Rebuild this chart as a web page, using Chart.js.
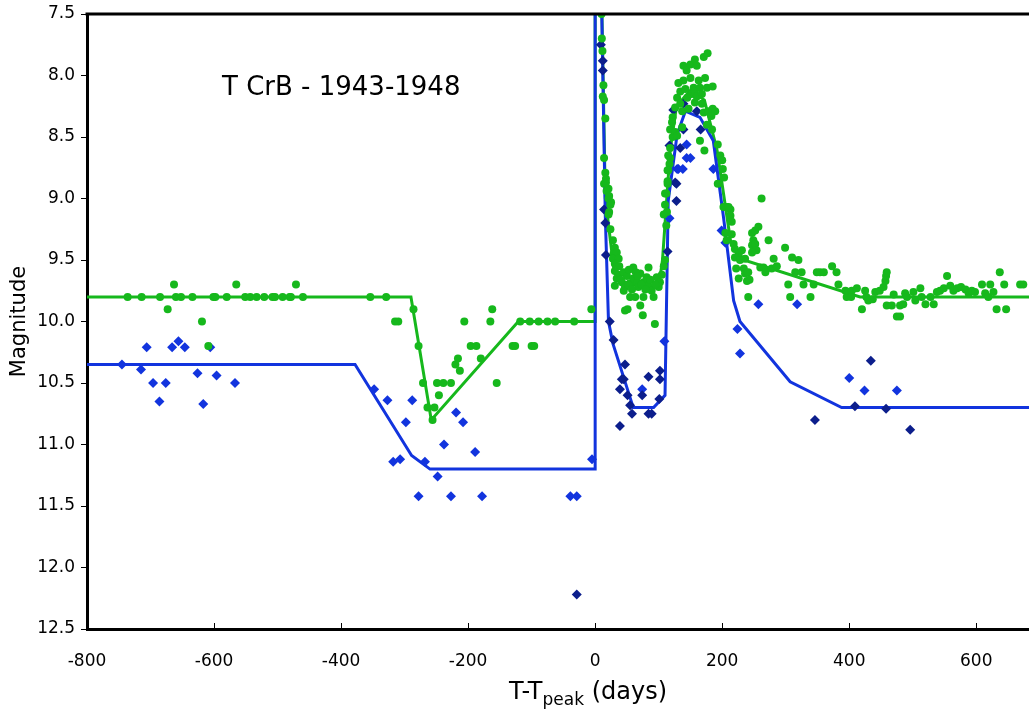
<!DOCTYPE html>
<html><head><meta charset="utf-8">
<script src="https://cdn.jsdelivr.net/npm/chart.js@4/dist/chart.umd.min.js"></script>
<style>html,body{margin:0;padding:0;background:#fff;overflow:hidden}canvas{display:block}</style>
</head><body>
<canvas id="c" width="1029" height="712"></canvas>
<script>
// ---- data (days from peak, magnitude) ----
const xTickValues = [-800, -600, -400, -200, 0, 200, 400, 600];
const yTickValues = [7.5, 8.0, 8.5, 9.0, 9.5, 10.0, 10.5, 11.0, 11.5, 12.0, 12.5];
const chartTitle = "T CrB - 1943-1948";
const yTitle = "Magnitude";

// green model line (V)
const greenLineX = [-800, -290, -258, -121, 0, 0, 16, 30, 50, 100, 106, 118, 128, 150, 172, 192, 213, 234, 417, 683];
const greenLineY = [9.8, 9.8, 10.8, 10.0, 10.0, 4.5, 9.0, 9.6, 9.7, 9.72, 9.5, 8.61, 8.25, 8.12, 8.2, 8.61, 9.34, 9.5, 9.8, 9.8];

// blue model line (B)
const blueLineX = [-800, -378, -289, -260, 0, 0, 16, 21, 28, 60, 92, 110, 115, 129, 142, 165, 186, 202, 218, 228, 307, 388, 683];
const blueLineY = [10.35, 10.35, 11.09, 11.2, 11.2, 4.4, 9.15, 10.0, 10.18, 10.7, 10.7, 10.6, 9.02, 8.48, 8.29, 8.34, 8.53, 9.15, 9.83, 10.0, 10.49, 10.7, 10.7];

// green circles (visual)
const greenPtsX = [
 -736,-714,-685,-673,-663,-660,-652,-634,-619,-609,-601,-598,-580,-565,-551,-543,-533,-521,-508,-504,-492,-481,-479,-471,-460,
 -354,-329,-315,-310,-286,-278,-271,-264,-253,-256,-249,-239,-227,-246,-220,-216,-213,-206,-196,-187,-180,-165,-162,-155,-130,-126,-118,-103,-89,-75,-63,-100,-96,-33,-6,
 10,10.5,11.5,13,12,14,16,14,16,17,14,21,21,25,22,17,18,22,24,21,24,28,31,29,34,28,37,31,38,
 31,37,45,50,34,42,31,47,55,60,60,66,71,68,76,84,81,84,89,92,97,100,102,105,55,63,47,51,71,75,94,45,76,40,52,58,64,73,79,87,95,53,67,
 108,110,112,113,110,114,115,118,117,
 108,110,112,114,114,115,118,118,122,122,126,126,129,131,134,139,139,144,150,157,160,171,177,134,142,150,155,152,157,163,165,173,176,185,137,147,157,168,171,178,185,189,183,176,184,165,172,193,197,200,201,203,193,207,213,121,137,129,145,160,168,
 262,202,210,213,215,205,215,207,218,220,226,231,220,228,236,222,234,236,241,226,239,243,241,247,252,257,249,247,252,254,247,273,260,265,268,278,281,286,299,310,320,304,307,315,325,328,339,344,349,354,360,373,380,383,394,399,404,396,403,412,420,425,427,430,437,441,448,454,457,458,459,459,467,470,475,480,480,485,488,491,501,504,512,514,520,528,533,538,543,549,554,559,564,570,576,583,588,593,598,609,614,619,622,627,632,647,637,644,669,674
];
const greenPtsY = [
 9.8,9.8,9.8,9.9,9.7,9.8,9.8,9.8,10.0,10.2,9.8,9.8,9.8,9.7,9.8,9.8,9.8,9.8,9.8,9.8,9.8,9.8,9.8,9.7,9.8,
 9.8,9.8,10.0,10.0,9.9,10.2,10.5,10.7,10.7,10.8,10.5,10.5,10.5,10.6,10.35,10.3,10.4,10.0,10.2,10.2,10.3,10.0,9.9,10.5,10.2,10.2,10.0,10.0,10.0,10.0,10.0,10.2,10.2,10.0,9.9,
 7.5,7.7,7.8,8.08,8.17,8.2,8.35,8.67,8.79,8.84,8.88,8.92,9.0,9.03,9.11,8.87,8.94,8.98,9.05,9.13,9.25,9.34,9.4,9.45,9.44,9.49,9.49,9.53,9.55,
 9.59,9.62,9.6,9.63,9.65,9.68,9.71,9.72,9.69,9.56,9.65,9.68,9.61,9.72,9.68,9.56,9.64,9.71,9.75,9.8,9.64,9.72,9.68,9.62,9.8,9.8,9.91,9.9,9.87,9.95,10.02,9.75,9.8,9.66,9.7,9.74,9.6,9.7,9.74,9.66,9.7,9.58,9.63,
 9.55,9.5,9.22,9.11,8.96,8.88,8.77,8.67,8.72,
 9.13,9.05,8.96,8.86,8.77,8.65,8.59,8.44,8.5,8.34,8.46,8.26,8.18,8.06,8.13,8.04,7.92,7.96,7.91,7.87,7.92,7.85,7.82,8.23,8.11,8.02,8.1,8.15,8.13,8.04,8.1,8.02,8.1,8.09,8.29,8.27,8.22,8.23,8.3,8.29,8.27,8.29,8.33,8.4,8.44,8.53,8.61,8.56,8.65,8.69,8.76,8.83,8.88,9.07,9.09,8.38,8.42,8.49,8.18,8.17,8.15,
 9.0,9.07,9.07,9.14,9.19,9.28,9.29,9.34,9.37,9.41,9.45,9.42,9.48,9.5,9.49,9.57,9.57,9.61,9.6,9.65,9.67,9.66,9.8,9.28,9.26,9.23,9.34,9.38,9.37,9.42,9.44,9.34,9.56,9.56,9.6,9.57,9.49,9.55,9.4,9.48,9.5,9.7,9.8,9.6,9.6,9.7,9.8,9.7,9.6,9.6,9.6,9.55,9.6,9.7,9.75,9.76,9.75,9.8,9.8,9.73,9.9,9.75,9.8,9.83,9.82,9.76,9.75,9.72,9.67,9.63,9.6,9.87,9.87,9.78,9.96,9.96,9.87,9.86,9.77,9.8,9.76,9.83,9.73,9.8,9.86,9.8,9.86,9.76,9.75,9.73,9.63,9.71,9.75,9.73,9.72,9.74,9.77,9.75,9.76,9.7,9.77,9.8,9.7,9.76,9.9,9.9,9.6,9.7,9.7,9.7
];

// blue diamonds
const bluePtsX = [-745,-715,-706,-696,-686,-676,-666,-656,-646,-626,-617,-606,-596,-567,-348,-327,-288,-298,-318,-307,-268,-248,-238,-219,-208,-189,-278,-227,-178,-39,-29,-5,
 74,109,117,129,144,144,150,131,138,186,199,205,224,228,257,318,400,424,475];
const bluePtsY = [10.35,10.39,10.21,10.5,10.65,10.5,10.21,10.16,10.21,10.42,10.67,10.21,10.44,10.5,10.55,10.64,10.64,10.82,11.14,11.12,11.14,11.26,11.0,10.74,10.82,11.06,11.42,11.42,11.42,11.42,11.42,11.12,
 10.55,10.16,9.16,8.76,8.56,8.67,8.67,8.76,8.76,8.76,9.26,9.36,10.06,10.26,9.86,9.86,10.46,10.56,10.56];

// navy diamonds
const navyPtsX = [-29,9,12,12,14,16,17,23,29,47,42,45,39,39,51,55,58,74,84,84,89,102,102,101,114,128,128,123,139,160,139,166,117,134,126,346,434,409,458,496];
const navyPtsY = [12.22,7.75,7.88,7.96,9.09,9.2,9.46,10.0,10.15,10.35,10.47,10.47,10.55,10.85,10.6,10.68,10.75,10.6,10.45,10.75,10.75,10.4,10.47,10.63,9.43,9.02,8.88,8.28,8.23,8.29,8.44,8.44,8.57,8.59,8.87,10.8,10.32,10.69,10.71,10.88];

const pts = (xs, ys) => xs.map((x, i) => ({x: x, y: ys[i]}));

const GREEN = 'rgb(22,184,28)';
const BLUE = 'rgb(18,52,222)';
const NAVY = 'rgb(12,30,140)';
const FONT = "'DejaVu Sans', Verdana, sans-serif";

const framePlugin = {
  id: 'frame',
  afterDraw(chart) {
    const ctx = chart.ctx, a = chart.chartArea;
    const xs = chart.scales.x;
    ctx.save();
    ctx.strokeStyle = '#000';
    ctx.lineWidth = 3;
    ctx.beginPath();
    ctx.moveTo(a.left - 1.5, a.top);
    ctx.lineTo(chart.width, a.top);
    ctx.stroke();
    ctx.lineWidth = 1;
    xTickValues.forEach(v => {
      const px = Math.round(xs.getPixelForValue(v)) + 0.5;
      ctx.beginPath();
      ctx.moveTo(px, a.bottom);
      ctx.lineTo(px, a.bottom - 6);
      ctx.stroke();
    });
    ctx.fillStyle = '#000';
    // annotation title
    ctx.font = "26px " + FONT;
    ctx.textAlign = 'left';
    ctx.textBaseline = 'middle';
    ctx.fillText(chartTitle, 222, 88);
    // y title
    ctx.save();
    ctx.translate(20, (a.top + a.bottom) / 2);
    ctx.rotate(-Math.PI / 2);
    ctx.textAlign = 'center';
    ctx.font = "21px " + FONT;
    ctx.fillText(yTitle, 0, 0);
    ctx.restore();
    // x title with subscript
    const big = "24px " + FONT, small = "17px " + FONT;
    const p1 = "T-T", p2 = "peak", p3 = " (days)";
    ctx.font = big; const w1 = ctx.measureText(p1).width, w3 = ctx.measureText(p3).width;
    ctx.font = small; const w2 = ctx.measureText(p2).width;
    let x0 = 588 - (w1 + w2 + w3) / 2;
    const yb = 699;
    ctx.textAlign = 'left'; ctx.textBaseline = 'alphabetic';
    ctx.font = big; ctx.fillText(p1, x0, yb);
    ctx.font = small; ctx.fillText(p2, x0 + w1, yb + 6);
    ctx.font = big; ctx.fillText(p3, x0 + w1 + w2, yb);
    ctx.restore();
  }
};

new Chart(document.getElementById('c'), {
  type: 'scatter',
  data: {
    datasets: [
      {label: 'V visual', data: pts(greenPtsX, greenPtsY), pointStyle: 'circle', pointRadius: 4, pointBorderWidth: 0, backgroundColor: GREEN, borderColor: GREEN, order: 0},
      {label: 'B navy', data: pts(navyPtsX, navyPtsY), pointStyle: 'rectRot', pointRadius: 5, pointBorderWidth: 0, backgroundColor: NAVY, borderColor: NAVY, order: 1},
      {label: 'B', data: pts(bluePtsX, bluePtsY), pointStyle: 'rectRot', pointRadius: 5, pointBorderWidth: 0, backgroundColor: BLUE, borderColor: BLUE, order: 2},
      {label: 'B model', data: pts(blueLineX, blueLineY), showLine: true, pointRadius: 0, borderWidth: 3, borderColor: BLUE, backgroundColor: BLUE, order: 3},
      {label: 'V model', data: pts(greenLineX, greenLineY), showLine: true, pointRadius: 0, borderWidth: 3, borderColor: GREEN, backgroundColor: GREEN, order: 4}
    ]
  },
  options: {
    responsive: false,
    animation: false,
    devicePixelRatio: 1,
    layout: {autoPadding: false, padding: {top: 14, left: 0, right: 0, bottom: 0}},
    plugins: {legend: {display: false}, tooltip: {enabled: false}},
    scales: {
      x: {
        type: 'linear', position: 'bottom', min: -800, max: 683,
        afterFit(s) { s.height = 83; s.paddingRight = 0; s.paddingLeft = 0; },
        ticks: {stepSize: 200, includeBounds: false, color: '#000', font: {family: FONT, size: 17}, padding: 22, maxRotation: 0},
        grid: {drawOnChartArea: false, drawTicks: false, color: '#000'},
        border: {display: true, color: '#000', width: 3}
      },
      y: {
        type: 'linear', reverse: true, min: 7.5, max: 12.5,
        afterFit(s) { s.width = 87; s.paddingTop = 0; s.paddingBottom = 0; },
        ticks: {stepSize: 0.5, color: '#000', font: {family: FONT, size: 17}, padding: 6, callback: v => Number(v).toFixed(1)},
        grid: {drawOnChartArea: false, drawTicks: true, tickLength: 6, color: '#000'},
        border: {display: true, color: '#000', width: 3}
      }
    }
  },
  plugins: [framePlugin]
});
</script>
</body></html>
